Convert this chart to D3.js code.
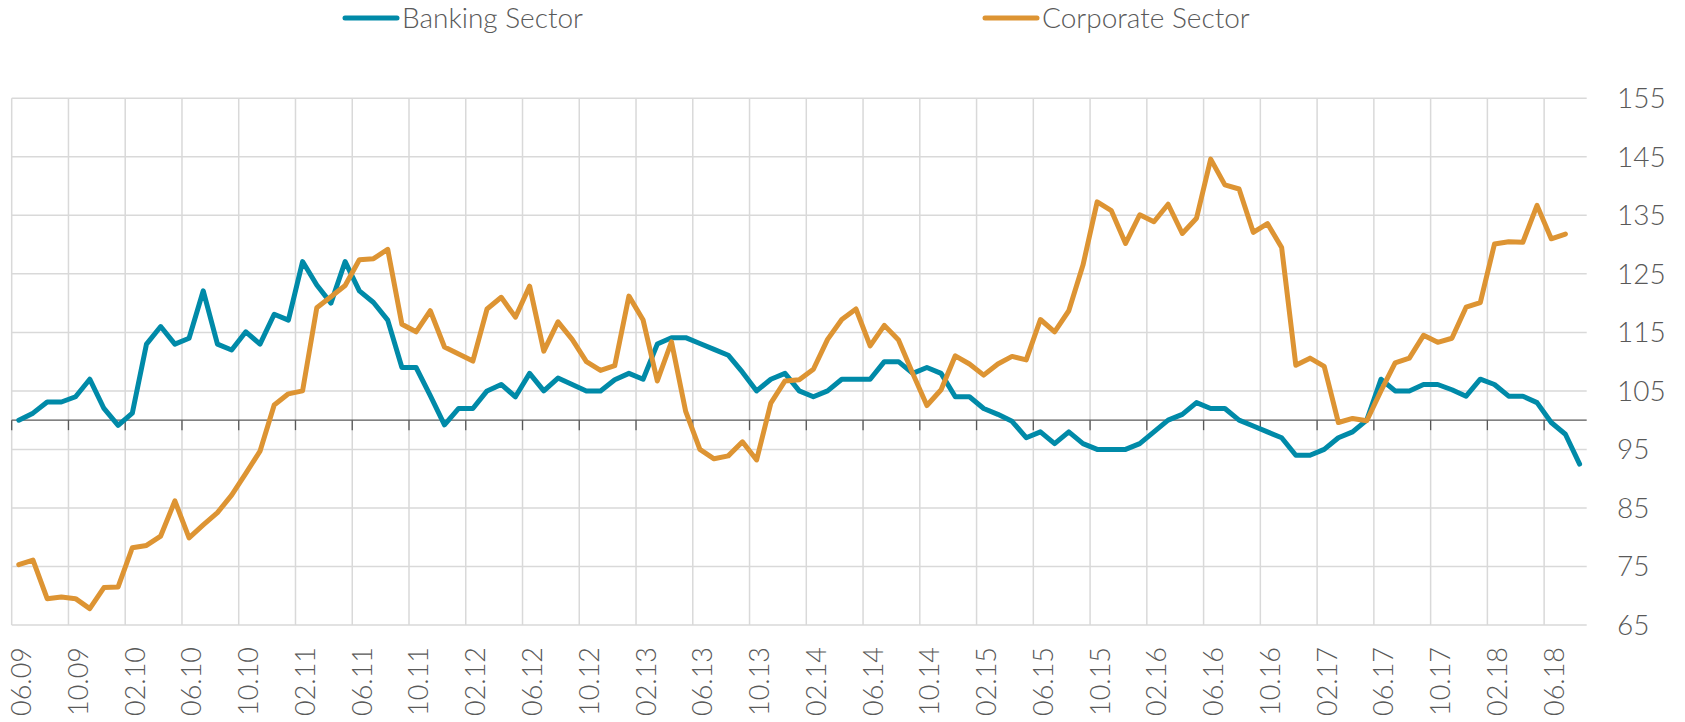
<!DOCTYPE html>
<html>
<head>
<meta charset="utf-8">
<script src="https://cdn.jsdelivr.net/npm/d3@7"></script>
<style>
  body { margin: 0; background: #fff; }
  text { font-family: Lato, "Open Sans", sans-serif; font-weight: 300; fill: #595959; }
</style>
</head>
<body>
<div id="chart"></div>
<script>
// monthly index values, 06.09 onwards
var banking = [100,101.2,103.1,103.1,104,107,102,99.1,101.2,113,
  116,113,114,122.1,113,112,115.1,113,118.1,117.1,
  127.1,123.1,120,127.1,122.1,120.1,117.1,109,109,104.2,
  99.2,102,102,105,106.1,104,108,105,107.2,106.1,
  105,105,106.9,108,107,113,114.1,114.1,113.1,112.1,
  111.1,108.2,105,107,108,105,104,105,107,107,
  107,110,110,108,109,108,104,104,102,101,
  99.8,97,98,96,98,96,95,95,95,96,
  98,100,101,103,102,102,100,99,98,97,
  94,94,95,97,98,100,107,105,105,106.1,
  106.1,105.2,104.1,107,106.1,104.1,104.1,103,99.6,97.6,92.5];

var corporate = [75.3,76.1,69.5,69.8,69.5,67.8,71.4,71.5,78.2,78.6,
  80.2,86.2,79.9,82.1,84.2,87.2,90.9,94.7,102.6,104.5,
  105,119.2,121.1,123,127.4,127.6,129.2,116.4,115.1,118.7,
  112.5,111.3,110.1,119,121,117.6,122.9,111.8,116.8,113.8,
  110,108.5,109.3,121.2,117.1,106.7,113.4,101.5,95,93.4,
  93.9,96.3,93.2,102.9,106.7,106.9,108.7,113.8,117.2,119,
  112.7,116.2,113.7,108,102.5,105.2,111,109.6,107.7,109.6,
  110.9,110.3,117.2,115.1,118.7,126.5,137.3,135.8,130.2,135.1,
  133.9,136.9,131.9,134.5,144.6,140.2,139.5,132.1,133.6,129.5,
  109.4,110.6,109.2,99.6,100.3,99.9,105,109.8,110.6,114.5,
  113.3,114,119.3,120.1,130.1,130.5,130.4,136.7,131,131.8];

var xLabels = ["06.09","10.09","02.10","06.10","10.10","02.11","06.11","10.11",
  "02.12","06.12","10.12","02.13","06.13","10.13","02.14","06.14","10.14",
  "02.15","06.15","10.15","02.16","06.16","10.16","02.17","06.17","10.17",
  "02.18","06.18"];

var yTicks = [65,75,85,95,105,115,125,135,145,155];

var seriesNames = ["Banking Sector", "Corporate Sector"];
var seriesColors = ["#008aa8", "#dd9433"];

var svgWidth = 1685;
var svgHeight = 722;
var nMonths = 111;

var margin = {top: 98.3, right: 98.3, bottom: 97, left: 11.7};

var svg = d3.select("#chart")
  .append("svg")
  .attr("width", svgWidth)
  .attr("height", svgHeight);

var xScale = d3.scaleLinear()
  .domain([0, nMonths])
  .range([margin.left, svgWidth - margin.right]);

var yScale = d3.scaleLinear()
  .domain([65, 155])
  .range([svgHeight - margin.bottom, margin.top]);

var grid = svg.append("g");

// horizontal gridlines
grid.selectAll(".hgrid")
  .data(yTicks)
  .enter()
  .append("line")
  .attr("x1", xScale(0))
  .attr("x2", xScale(nMonths))
  .attr("y1", d => yScale(d))
  .attr("y2", d => yScale(d))
  .attr("stroke", "#d9d9d9")
  .attr("stroke-width", 1.5);

// vertical gridlines every 4 months
grid.selectAll(".vgrid")
  .data(xLabels)
  .enter()
  .append("line")
  .attr("x1", (d, i) => xScale(i * 4))
  .attr("x2", (d, i) => xScale(i * 4))
  .attr("y1", yScale(155))
  .attr("y2", yScale(65))
  .attr("stroke", "#d9d9d9")
  .attr("stroke-width", 1.5);

// base line at 100 with tick marks
svg.append("line")
  .attr("x1", xScale(0))
  .attr("x2", xScale(nMonths))
  .attr("y1", yScale(100))
  .attr("y2", yScale(100))
  .attr("stroke", "#595959")
  .attr("stroke-width", 1.3);

svg.selectAll(".tick100")
  .data(xLabels)
  .enter()
  .append("line")
  .attr("x1", (d, i) => xScale(i * 4))
  .attr("x2", (d, i) => xScale(i * 4))
  .attr("y1", yScale(100))
  .attr("y2", yScale(100) + 10)
  .attr("stroke", "#595959")
  .attr("stroke-width", 1.3);

// y labels on the right
svg.selectAll(".ylab")
  .data(yTicks)
  .enter()
  .append("text")
  .attr("x", 1617)
  .attr("y", d => yScale(d))
  .attr("dy", "0.35em")
  .attr("font-size", 28)
  .text(d => d);

// x labels rotated
svg.selectAll(".xlab")
  .data(xLabels)
  .enter()
  .append("text")
  .attr("transform", (d, i) => `translate(${xScale(i * 4) + 19.5}, 647) rotate(-90)`)
  .attr("text-anchor", "end")
  .attr("font-size", 27)
  .text(d => d);

var line = d3.line()
  .x((d, i) => xScale(i + 0.5))
  .y(d => yScale(d));

[banking, corporate].forEach(function(s, k) {
  svg.append("path")
    .datum(s)
    .attr("d", line)
    .attr("fill", "none")
    .attr("stroke", seriesColors[k])
    .attr("stroke-width", 5)
    .attr("stroke-linejoin", "round")
    .attr("stroke-linecap", "round");
});

// legend
var legendX = [345, 985];
var legend = svg.selectAll(".legend")
  .data(seriesNames)
  .enter()
  .append("g")
  .attr("transform", (d, i) => `translate(${legendX[i]}, 18)`);

legend.append("line")
  .attr("x1", 0)
  .attr("x2", 52)
  .attr("stroke", (d, i) => seriesColors[i])
  .attr("stroke-width", 5)
  .attr("stroke-linecap", "round");

legend.append("text")
  .attr("x", 57)
  .attr("y", 10)
  .attr("font-size", 28)
  .text(d => d);
</script>
</body>
</html>
